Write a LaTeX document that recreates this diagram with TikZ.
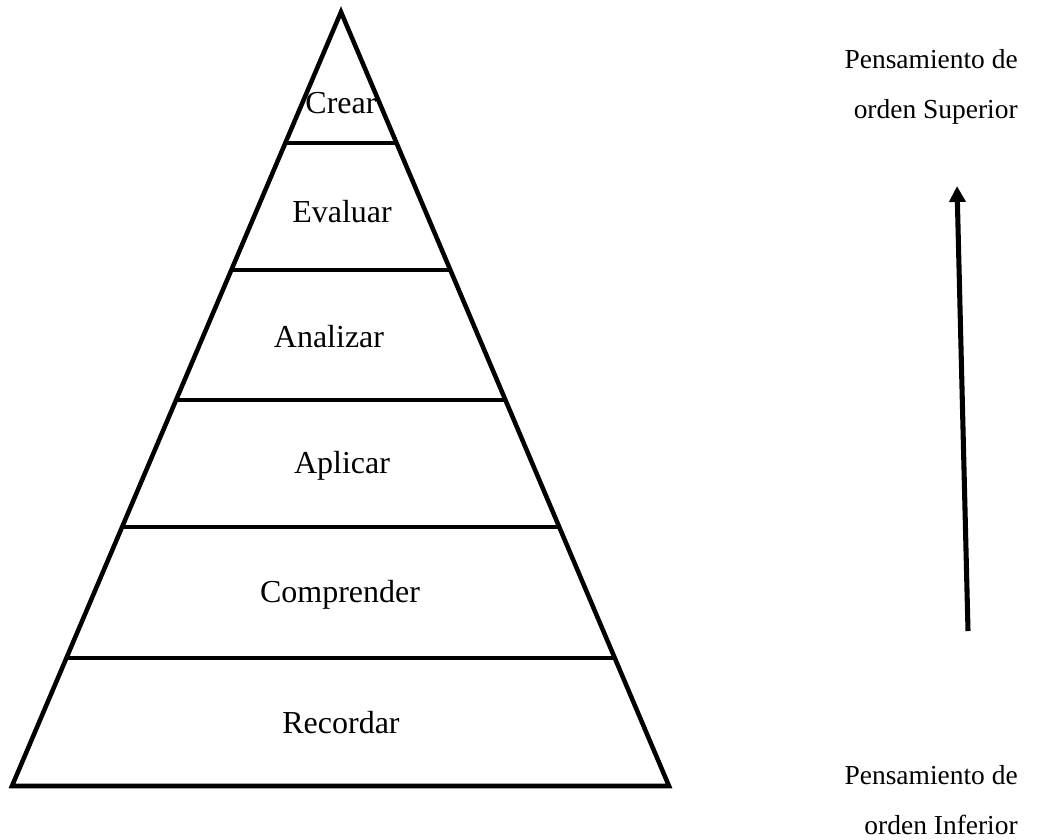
\documentclass[tikz,border=0pt]{standalone}
\usepackage{fontspec}
\setmainfont{Liberation Serif}
\usetikzlibrary{calc,arrows.meta}
\begin{document}
\begin{tikzpicture}[x=0.75pt,y=-0.75pt,
  edge/.style={line width=3.4pt,line join=miter,line cap=butt},
  lvl/.style={font=\fontsize{24pt}{28pt}\selectfont,inner sep=0pt},
  side/.style={font=\fontsize{20.6pt}{38pt}\selectfont,align=right,inner sep=0pt,anchor=east},
  up/.style={line width=3.8pt,-{Triangle[width=12pt,length=12pt]}}]
\useasboundingbox (0,0) rectangle (1048,839);
\coordinate (apex) at (341,12);
\coordinate (bl) at (12,786);
\coordinate (br) at (669,786);
\draw[edge] (bl) -- (apex) -- (br) -- cycle;
\foreach \f [count=\i] in {0.1693,0.3333,0.5013,0.6654,0.8346}{
  \draw[edge] ($(apex)!\f!(bl)$) -- ($(apex)!\f!(br)$);
}
\node[lvl] (crear) at (341,103) {Crear};
\node[lvl] (evaluar) at (342,212) {Evaluar};
\node[lvl] (analizar) at (329,337) {Analizar};
\node[lvl] (aplicar) at (342,466) {Aplicar};
\node[lvl] (comprender) at (340,595) {Comprender};
\node[lvl] (recordar) at (341,723) {Recordar};
\node[side] (sup) at (1018,87) {Pensamiento de\\orden Superior};
\node[side] (inf) at (1018,800) {Pensamiento de\\orden Inferior};
\coordinate (a0) at (968,631);
\coordinate (a1) at (957,186);
\draw[up] (a0) -- (a1);
\end{tikzpicture}
\end{document}
